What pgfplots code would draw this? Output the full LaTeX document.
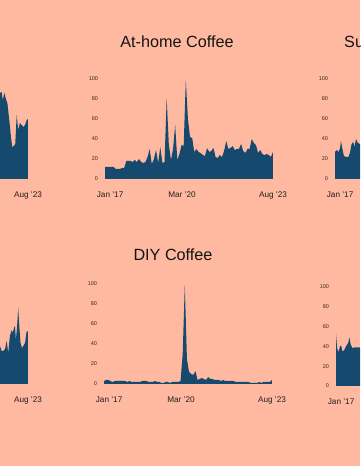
\documentclass[border=0pt]{standalone}
\usepackage{fontspec}
\setmainfont{Liberation Sans}
\usepackage{pgfplots}
\pgfplotsset{compat=1.18}
\definecolor{bg}{RGB}{255,185,160}
\definecolor{navy}{RGB}{22,73,110}
\definecolor{ticktxt}{RGB}{60,40,30}
\pgfplotsset{
  panel/.style={
    scale only axis, width=168pt, height=100pt,
    xmin=0, xmax=79, ymin=0, ymax=100,
    axis line style={draw=none},
    major tick length=0pt,
    ytick={0,20,40,60,80,100},
    xtick={2.4,36.2,79},
    xticklabels={Jan ’17, Mar ’20, Aug ’23},
    yticklabel style={font=\fontsize{5.5}{6}\selectfont, text=ticktxt, xshift=-3.5pt},
    xticklabel style={font=\fontsize{8.2}{9}\selectfont, text=black!88, anchor=center, text height=5.8pt, text depth=1.6pt, yshift=-16pt},
    /pgf/number format/assume math mode=true,
    clip=true,
  },
  leftpanel/.style={panel, ytick=\empty, xtick={79}, xticklabels={Aug ’23}},
  rightpanel/.style={panel, xtick={2.4}, xticklabels={Jan ’17}},
}
\begin{document}
\begin{tikzpicture}[x=1pt,y=1pt]
\fill[bg] (0,0) rectangle (360,466);
\begin{scope}
\clip (0,0) rectangle (360,466);
% top left (partial)
\begin{axis}[leftpanel, at={(-140pt,287pt)}, anchor=south west]
\addplot[fill=navy, draw=none] coordinates {
(65,85) (65.8,86) (66.6,87) (67.1,79) (67.9,86) (68.6,80) (69.3,76) (70.2,59) (71,42) (71.6,32) (72.3,33) (73,35) (73.7,64) (74.4,49) (75.2,56) (76,54) (76.8,52) (77.6,54) (78.4,59) (79,60)
} \closedcycle;
\end{axis}
% top centre: At-home Coffee
\begin{axis}[panel, at={(105pt,287pt)}, anchor=south west]
\addplot[fill=navy, draw=none] coordinates {
(0,12) (1,12) (2,12) (3,12) (4,12) (5,10) (6,10) (7,10) (8,11) (9,11)
(10,18) (11,18) (12,18) (13,17) (14,19) (15,17) (16,20) (17,17) (18,16) (19,17)
(20,22) (21,30) (22,15) (23,20) (24,29) (25,16) (26,32) (27,16) (28,17) (29,81)
(30,35) (31,19) (32,30) (33,54) (34,19) (35,25) (36,34) (37,33) (38,99) (39,60)
(40,42) (41,41) (42,27) (43,30) (44,27) (45,26) (46,24) (47,23) (48,31) (49,27)
(50,28) (51,31) (52,22) (53,21) (54,24) (55,22) (56,28) (57,38) (58,30) (59,31)
(60,33) (61,29) (62,30) (63,30) (64,35) (65,28) (66,26) (67,30) (68,30) (69,40)
(70,36) (71,34) (72,26) (73,29) (74,25) (75,24) (76,25) (77,24) (78,22) (79,27)
} \closedcycle;
\end{axis}
% top right (partial)
\begin{axis}[rightpanel, at={(335pt,287pt)}, anchor=south west]
\addplot[fill=navy, draw=none] coordinates {
(0,27) (0.8,29) (1.6,27) (2.4,31) (2.8,38) (3.4,31) (4.2,23) (5.2,22) (6.3,22) (7,26) (7.8,35) (8.6,37) (9.1,32) (9.9,40) (10.7,36) (11.8,35) (13,34)
} \closedcycle;
\end{axis}
% bottom left (partial)
\begin{axis}[leftpanel, at={(-140pt,82pt)}, anchor=south west]
\addplot[fill=navy, draw=none] coordinates {
(65,36) (65.8,38) (66.6,33) (67.4,33) (68.2,35) (69,43) (69.7,31) (70.5,48) (71.3,54) (71.8,51) (72.4,56) (72.9,58) (73.3,44) (73.9,58) (74.4,76) (74.9,58) (75.5,41) (76.2,36) (76.8,38) (77.6,41) (78.4,53) (79,52)
} \closedcycle;
\end{axis}
% bottom centre: DIY Coffee
\begin{axis}[panel, at={(104pt,82pt)}, anchor=south west]
\addplot[fill=navy, draw=none] coordinates {
(0,3) (1,4) (2,4) (3,3) (4,2) (5,3) (6,3) (7,3) (8,3) (9,3)
(10,3) (11,2) (12,3) (13,2) (14,2) (15,2) (16,2) (17,2) (18,3) (19,3)
(20,3) (21,2) (22,2) (23,2) (24,3) (25,2) (26,2) (27,1) (28,1) (29,2)
(30,2) (31,1) (32,2) (33,2) (34,2) (35,2) (36,3) (37,30) (38,99) (39,25)
(40,12) (41,10) (42,9) (43,13) (44,4) (45,5) (46,6) (47,5) (48,4) (49,7)
(50,5) (51,5) (52,4) (53,4) (54,4) (55,3) (56,4) (57,3) (58,3) (59,3)
(60,3) (61,3) (62,2) (63,2) (64,2) (65,2) (66,2) (67,2) (68,2) (69,1)
(70,1) (71,1) (72,1) (73,2) (74,1) (75,2) (76,2) (77,2) (78,2) (79,4)
} \closedcycle;
\end{axis}
% bottom right (partial)
\begin{axis}[rightpanel, at={(336pt,80pt)}, anchor=south west, height=99pt]
\addplot[fill=navy, draw=none] coordinates {
(0,53) (0.5,39) (1.1,34) (1.9,40) (2.4,41) (3,35) (3.8,36) (4.7,40) (5.8,44) (6.3,49) (6.9,42) (7.8,38) (8.6,39) (9.7,39) (11.3,39) (12.5,38)
} \closedcycle;
\end{axis}
\node[font=\fontsize{16.2}{18}\selectfont, text=black!92] at (177,424) {At-home Coffee};
\node[font=\fontsize{16.2}{18}\selectfont, text=black!92, anchor=west, inner sep=0pt] at (344,423) {Subscription Coffee};
\node[font=\fontsize{16.2}{18}\selectfont, text=black!92] at (173,211) {DIY Coffee};
\end{scope}
\pgfresetboundingbox
\path[use as bounding box] (0,0) rectangle (360,466);
\end{tikzpicture}
\end{document}
